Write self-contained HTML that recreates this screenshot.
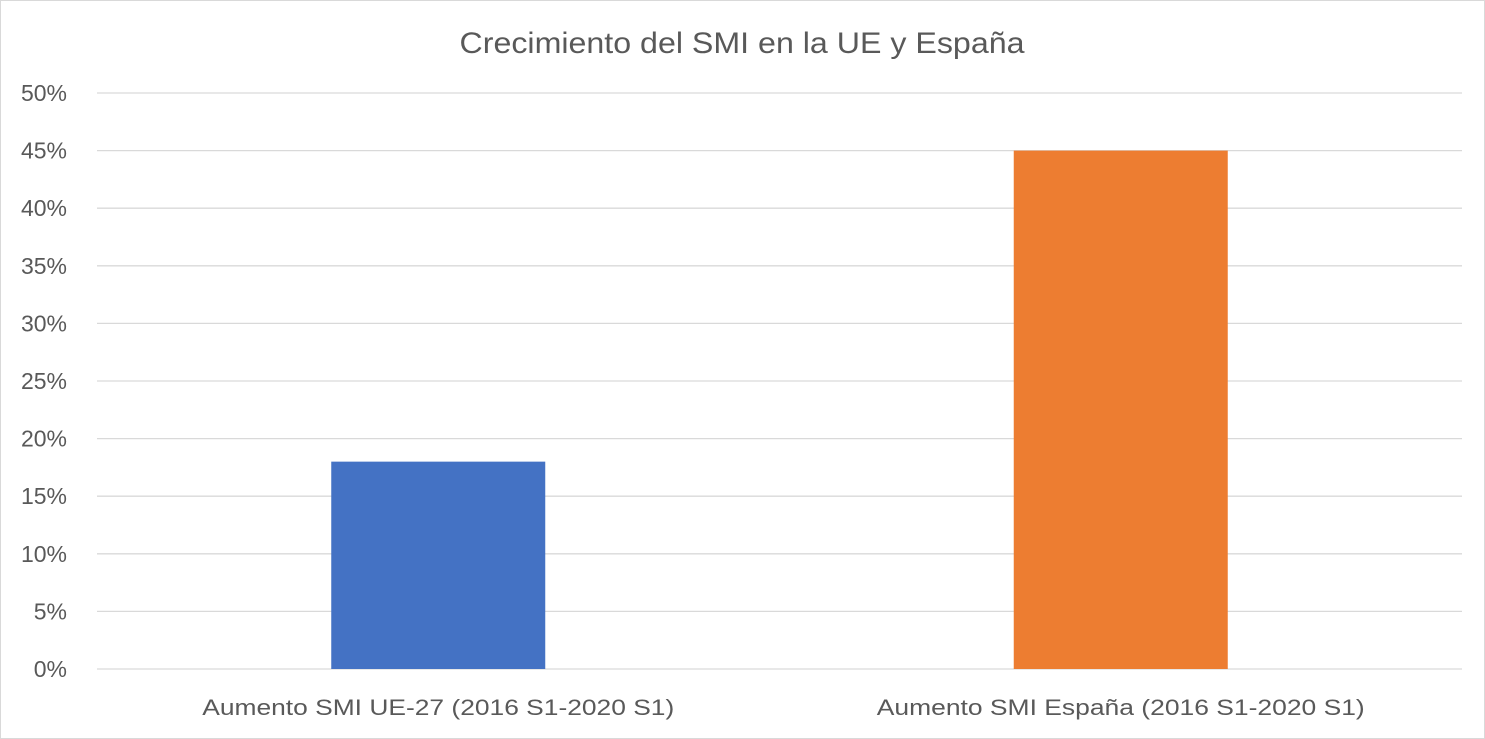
<!DOCTYPE html>
<html><head><meta charset="utf-8"><style>
html,body{margin:0;padding:0;background:#fff;}
svg{display:block;font-family:"Liberation Sans",sans-serif;}
</style></head><body>
<svg id="chart" width="1485" height="739">
<rect x="0.5" y="0.5" width="1484" height="738" fill="#fff" stroke="#d9d9d9"/>
<text x="742" y="53" text-anchor="middle" font-size="30" fill="#595959" textLength="565" lengthAdjust="spacingAndGlyphs">Crecimiento del SMI en la UE y España</text>
<g id="grid"></g><g id="bars"></g><g id="labels"></g>
</svg>
<script>
const categories=["Aumento SMI UE-27 (2016 S1-2020 S1)","Aumento SMI España (2016 S1-2020 S1)"];
const values=[18,45];
const colors=["#4472c4","#ed7d31"];
const ticks=[0,5,10,15,20,25,30,35,40,45,50];
const ns="http://www.w3.org/2000/svg";
const x0=97,x1=1462,yTop=93,yBot=669,max=50;
const y=v=>yBot-(v/max)*(yBot-yTop);
const bw=(x1-x0)/categories.length;
const grid=document.getElementById('grid'),bars=document.getElementById('bars'),labels=document.getElementById('labels');
ticks.forEach(t=>{
 const l=document.createElementNS(ns,'line');
 l.setAttribute('x1',x0);l.setAttribute('x2',x1);l.setAttribute('y1',y(t));l.setAttribute('y2',y(t));
 l.setAttribute('stroke','#d9d9d9');l.setAttribute('stroke-width','1.3');
 
 
 grid.appendChild(l);
 const tx=document.createElementNS(ns,'text');
 tx.setAttribute('x',67);tx.setAttribute('y',y(t)+8);tx.setAttribute('text-anchor','end');
 tx.setAttribute('font-size','23');tx.setAttribute('fill','#595959');tx.textContent=t+'%';
 
 
 labels.appendChild(tx);
});
const labelLens=[472,488];
categories.forEach((c,i)=>{
 const cx=x0+bw*(i+0.5),w=214;
 const r=document.createElementNS(ns,'rect');
 r.setAttribute('x',cx-w/2);r.setAttribute('width',w);r.setAttribute('y',y(values[i]));r.setAttribute('height',yBot-y(values[i]));
 r.setAttribute('fill',colors[i]);
 
 
 bars.appendChild(r);
 const tx=document.createElementNS(ns,'text');
 tx.setAttribute('x',cx);tx.setAttribute('y',715);tx.setAttribute('text-anchor','middle');
 tx.setAttribute('font-size','22');tx.setAttribute('fill','#595959');tx.textContent=c;
 tx.setAttribute('textLength',labelLens[i]);tx.setAttribute('lengthAdjust','spacingAndGlyphs');
 
 
 labels.appendChild(tx);
});
</script>
</body></html>
